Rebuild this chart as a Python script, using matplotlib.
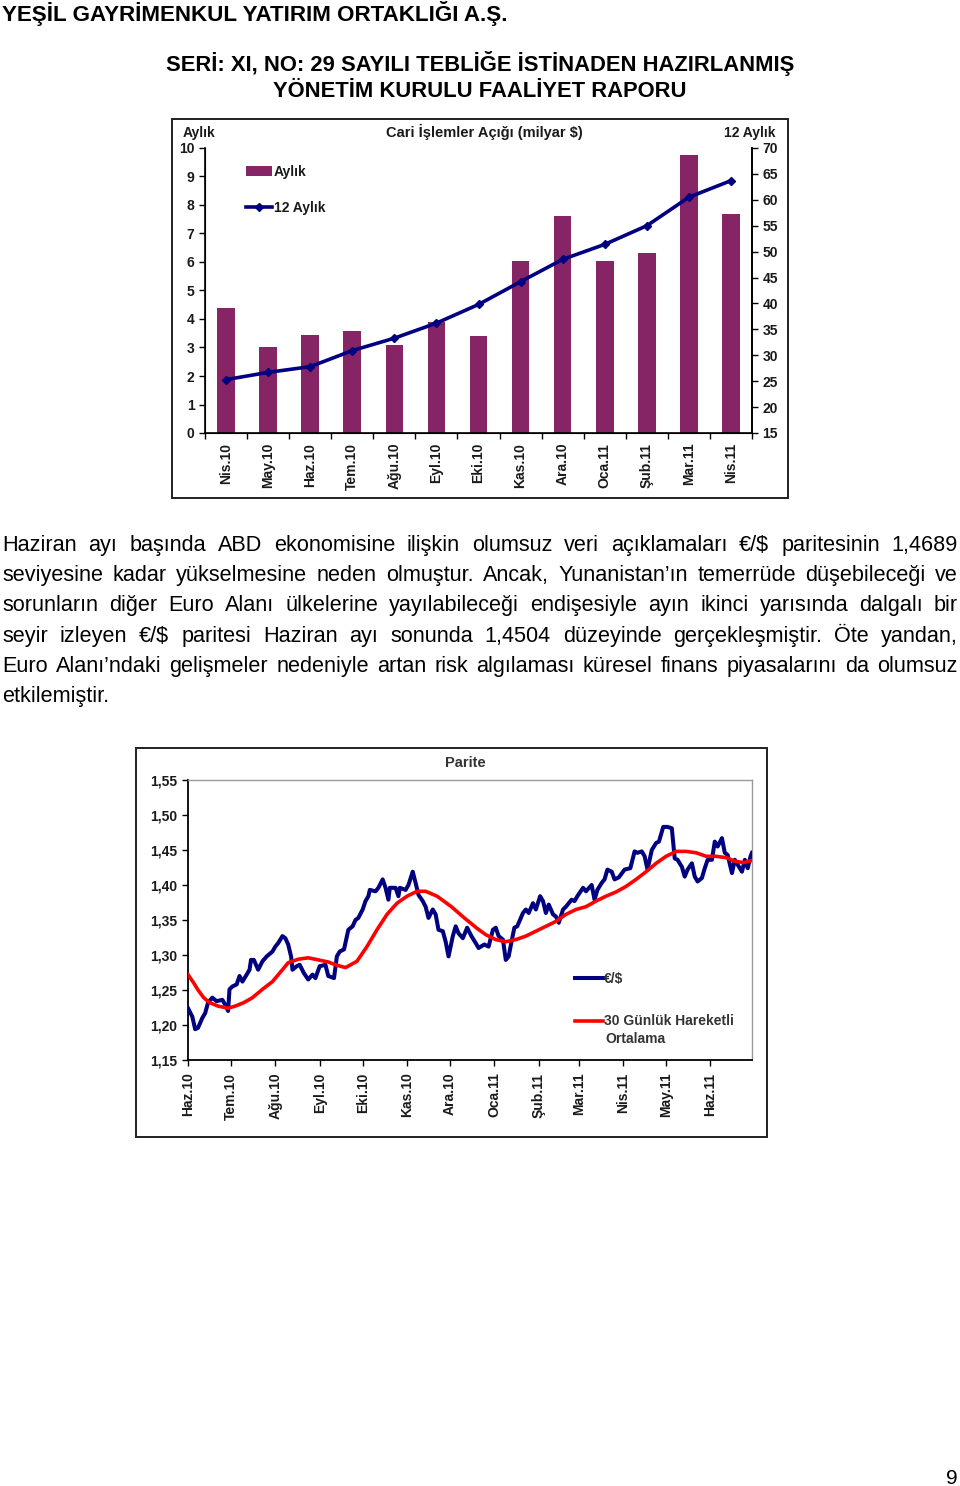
import matplotlib
matplotlib.use('Agg')
import matplotlib.pyplot as plt
from matplotlib.patches import Rectangle
from matplotlib.ticker import FuncFormatter
import numpy as np
import pandas as pd

plt.rcParams['font.family'] = ['Liberation Sans', 'DejaVu Sans']

# ---------------- data ----------------
header_company = "YEŞİL GAYRİMENKUL YATIRIM ORTAKLIĞI A.Ş."
header_line1 = "SERİ: XI, NO: 29 SAYILI TEBLİĞE İSTİNADEN HAZIRLANMIŞ"
header_line2 = "YÖNETİM KURULU FAALİYET RAPORU"

chart1_title = "Cari İşlemler Açığı (milyar $)"
months1 = ['Nis.10', 'May.10', 'Haz.10', 'Tem.10', 'Ağu.10', 'Eyl.10', 'Eki.10',
           'Kas.10', 'Ara.10', 'Oca.11', 'Şub.11', 'Mar.11', 'Nis.11']
monthly = [4.4, 3.0, 3.45, 3.58, 3.08, 3.9, 3.42, 6.05, 7.6, 6.05, 6.3, 9.75, 7.68]
annual = [25.3, 26.7, 27.8, 30.9, 33.3, 36.2, 39.8, 44.2, 48.5, 51.4, 55.0, 60.5, 63.7]

paragraph = [
    "Haziran ayı başında ABD ekonomisine ilişkin olumsuz veri açıklamaları €/$ paritesinin 1,4689",
    "seviyesine kadar yükselmesine neden olmuştur. Ancak, Yunanistan’ın temerrüde düşebileceği ve",
    "sorunların diğer Euro Alanı ülkelerine yayılabileceği endişesiyle ayın ikinci yarısında dalgalı bir",
    "seyir izleyen €/$ paritesi Haziran ayı sonunda 1,4504 düzeyinde gerçekleşmiştir. Öte yandan,",
    "Euro Alanı’ndaki gelişmeler nedeniyle artan risk algılaması küresel finans piyasalarını da olumsuz",
    "etkilemiştir.",
]

chart2_title = "Parite"
start_date = "2010-06-01"
end_date = "2011-06-30"
month_labels2 = ['Haz.10', 'Tem.10', 'Ağu.10', 'Eyl.10', 'Eki.10', 'Kas.10', 'Ara.10',
                 'Oca.11', 'Şub.11', 'Mar.11', 'Nis.11', 'May.11', 'Haz.11']
# EUR/USD (days after 1 June 2010)
eur_day = [0, 3, 5, 7, 10, 12, 14, 17, 20, 24, 26, 28, 29, 31, 34, 36, 38, 41, 43, 44,
           46, 49, 52, 55, 59, 61, 63, 66, 68, 70, 72, 73, 76, 78, 81, 84, 87, 89, 92, 96,
           98, 102, 104, 106, 109, 112, 115, 117, 119, 122, 124, 126, 127, 131, 133, 136, 138, 140, 141, 145,
           147, 148, 152, 154, 157, 159, 161, 164, 166, 168, 171, 173, 175, 178, 180, 182, 185, 187, 189, 192,
           195, 198, 201, 203, 207, 210, 213, 215, 217, 220, 222, 224, 226, 228, 230, 234, 236, 238, 241, 243,
           246, 248, 250, 252, 255, 257, 259, 262, 264, 268, 270, 272, 276, 278, 282, 284, 286, 289, 291, 293,
           296, 298, 301, 305, 309, 312, 314, 317, 319, 321, 324, 327, 329, 332, 335, 338, 340, 342, 345, 347,
           349, 352, 354, 356, 359, 361, 363, 366, 368, 370, 373, 375, 377, 380, 382, 384, 387, 389, 391, 393,
           394]
eur_usd = [1.224, 1.212, 1.194, 1.196, 1.210, 1.217, 1.232, 1.239, 1.234, 1.236, 1.229, 1.220, 1.251, 1.255, 1.258, 1.270, 1.262, 1.272, 1.279, 1.293,
           1.293, 1.279, 1.291, 1.298, 1.305, 1.312, 1.317, 1.327, 1.324, 1.315, 1.298, 1.279, 1.284, 1.286, 1.274, 1.265, 1.272, 1.267, 1.284, 1.286,
           1.270, 1.267, 1.298, 1.305, 1.308, 1.336, 1.341, 1.350, 1.353, 1.365, 1.377, 1.384, 1.393, 1.391, 1.396, 1.408, 1.396, 1.379, 1.396, 1.396,
           1.384, 1.396, 1.393, 1.400, 1.419, 1.403, 1.386, 1.377, 1.369, 1.353, 1.365, 1.358, 1.336, 1.334, 1.319, 1.298, 1.327, 1.341, 1.331, 1.324,
           1.339, 1.327, 1.317, 1.310, 1.315, 1.312, 1.336, 1.339, 1.327, 1.322, 1.293, 1.298, 1.319, 1.339, 1.341, 1.360, 1.365, 1.360, 1.374, 1.365,
           1.384, 1.377, 1.360, 1.372, 1.358, 1.355, 1.346, 1.365, 1.369, 1.379, 1.377, 1.384, 1.396, 1.391, 1.400, 1.379, 1.393, 1.403, 1.408, 1.422,
           1.419, 1.408, 1.411, 1.422, 1.424, 1.448, 1.446, 1.448, 1.441, 1.422, 1.450, 1.460, 1.462, 1.483, 1.483, 1.481, 1.438, 1.436, 1.426, 1.412,
           1.422, 1.431, 1.412, 1.405, 1.410, 1.424, 1.436, 1.436, 1.462, 1.455, 1.467, 1.446, 1.443, 1.417, 1.436, 1.429, 1.419, 1.436, 1.424, 1.441,
           1.446]
# 30-day moving average
ma_day = [0, 4, 7, 11, 15, 21, 28, 33, 39, 45, 52, 59, 66, 70, 77, 84, 91, 98, 103, 110,
          118, 125, 132, 139, 146, 153, 160, 166, 174, 184, 193, 202, 208, 215, 222, 229, 236, 243, 250, 257,
          264, 271, 278, 285, 292, 299, 306, 313, 320, 327, 334, 341, 348, 355, 362, 369, 376, 382, 388, 394]
ma_30 = [1.272, 1.260, 1.250, 1.239, 1.232, 1.227, 1.224, 1.227, 1.232, 1.239, 1.251, 1.262, 1.279, 1.289, 1.294, 1.296, 1.293, 1.290, 1.286, 1.282,
         1.291, 1.312, 1.336, 1.358, 1.374, 1.384, 1.391, 1.391, 1.384, 1.369, 1.353, 1.338, 1.329, 1.322, 1.319, 1.322, 1.327, 1.334, 1.341, 1.348,
         1.358, 1.365, 1.369, 1.377, 1.384, 1.390, 1.398, 1.408, 1.419, 1.431, 1.441, 1.448, 1.448, 1.446, 1.441, 1.441, 1.439, 1.434, 1.432, 1.435]
legend2 = ['€/$', '30 Günlük Hareketli']
legend2_extra = 'Ortalama'
page_number = "9"

# ---------------- figure helpers ----------------
W, H = 960, 1486
fig = plt.figure(figsize=(W / 100, H / 100), dpi=100)
renderer = fig.canvas.get_renderer()
TXT = '#1a1a1a'


def fx(x):
    return x / W


def fy(y):
    return 1 - y / H


def axes_px(x0, y0, x1, y1):
    return fig.add_axes([fx(x0), fy(y1), (x1 - x0) / W, (y1 - y0) / H])


def fit_text(x, y, s, width, ha='left', va='baseline', weight='bold', size0=14, **kw):
    t = fig.text(fx(x), fy(y), s, ha=ha, va=va, fontsize=size0, fontweight=weight, **kw)
    w = t.get_window_extent(renderer).width
    t.set_fontsize(size0 * width / w)
    return t


def frame(x0, y0, x1, y1):
    fig.patches.append(Rectangle((fx(x0), fy(y1)), (x1 - x0) / W, (y1 - y0) / H,
                                 transform=fig.transFigure, fill=False,
                                 edgecolor='#202020', lw=1.4))


# ---------------- header ----------------
fit_text(2, 21, header_company, 506, ha='left')
fit_text(480.5, 71, header_line1, 629, ha='center')
fit_text(479.5, 97, header_line2, 413, ha='center')

# ---------------- chart 1 ----------------
frame(172, 119, 788, 498)
fig.text(fx(183), fy(133), 'Aylık', fontsize=10, fontweight='bold', color=TXT, va='center', ha='left')
fig.text(fx(484), fy(132), chart1_title, fontsize=10.5, fontweight='bold', color=TXT, va='center', ha='center')
fig.text(fx(775), fy(133), '12 Aylık', fontsize=10, fontweight='bold', color=TXT, va='center', ha='right')

ax1 = axes_px(205, 148, 752, 433)
xc = np.arange(len(months1))
bars = ax1.bar(xc, monthly, width=0.42, color='#862565', zorder=2, label='Aylık')
ax1.set_xlim(-0.5, len(months1) - 0.5)
ax1.set_ylim(0, 10)
ax1.set_yticks(range(0, 11))
ax1.set_xticks(xc)
ax1.set_xticklabels(months1, rotation=90, fontsize=10, fontweight='bold', color=TXT)
ax1.set_xticks(np.arange(-0.5, len(months1)), minor=True)
ax1.tick_params(axis='x', which='major', length=0, pad=7)
ax1.tick_params(axis='x', which='minor', length=4, direction='out', width=1)
ax1.tick_params(axis='y', length=4, direction='out', labelsize=10, labelcolor=TXT, width=1)
for lbl in ax1.get_yticklabels():
    lbl.set_fontweight('bold')
ax1.spines['top'].set_visible(False)
for s in ['left', 'bottom', 'right']:
    ax1.spines[s].set_linewidth(1.2)
ax1.patch.set_alpha(0)

ax1b = ax1.twinx()
line1, = ax1b.plot(xc, annual, color='#000080', lw=2.6, marker='D', ms=4.5, zorder=3, label='12 Aylık')
ax1b.set_ylim(15, 70)
ax1b.set_yticks(range(15, 71, 5))
ax1b.tick_params(axis='y', length=4, direction='out', labelsize=10, labelcolor=TXT, width=1)
for lbl in ax1b.get_yticklabels():
    lbl.set_fontweight('bold')
ax1b.spines['top'].set_visible(False)
ax1b.spines['right'].set_linewidth(1.2)

leg1 = ax1b.legend(handles=[bars, line1], labels=['Aylık', '12 Aylık'], loc='upper left',
                   bbox_to_anchor=(fx(246), fy(165)), bbox_transform=fig.transFigure,
                   frameon=False, borderpad=0, borderaxespad=0, handlelength=1.9,
                   handletextpad=0.1, labelspacing=1.55, numpoints=1,
                   prop={'weight': 'bold', 'size': 10})
for t in leg1.get_texts():
    t.set_color(TXT)

# ---------------- paragraph ----------------
x_left, x_right = 2, 958
baselines = [551, 581, 611, 641.5, 671.5, 701.5]


def words_width(line, size):
    ws = []
    for w in line.split(' '):
        t = fig.text(0, 0, w, fontsize=size)
        ws.append(t.get_window_extent(renderer).width)
        t.remove()
    return ws


psize = 15.6
while True:
    ok = True
    for line in paragraph[:-1]:
        ws = words_width(line, psize)
        gap = (x_right - x_left - sum(ws)) / (len(ws) - 1)
        if gap < 2.5:
            ok = False
            break
    if ok:
        break
    psize -= 0.1

for i, line in enumerate(paragraph):
    words = line.split(' ')
    ws = words_width(line, psize)
    if i < len(paragraph) - 1:
        gap = (x_right - x_left - sum(ws)) / (len(ws) - 1)
    else:
        gap = 5
    x = x_left
    for w, wd in zip(words, ws):
        fig.text(fx(x), fy(baselines[i]), w, fontsize=psize, va='baseline', ha='left', color='black')
        x += wd + gap

# ---------------- chart 2 ----------------
frame(136, 748, 767, 1137)
fig.text(fx(465.5), fy(763), chart2_title, fontsize=10.5, fontweight='bold', color='#333333',
         va='center', ha='center')

base = np.datetime64(start_date)
eur_dates = base + np.array(eur_day).astype('timedelta64[D]')
ma_dates = base + np.array(ma_day).astype('timedelta64[D]')

ax2 = axes_px(188, 780, 752, 1060)
l_eur, = ax2.plot(eur_dates, eur_usd, color='#000080', lw=2.9, solid_joinstyle='round', zorder=3)
l_ma, = ax2.plot(ma_dates, ma_30, color='#ff0000', lw=2.6, solid_joinstyle='round', zorder=4)
ax2.set_xlim(np.datetime64(start_date), np.datetime64(end_date))
ax2.set_ylim(1.15, 1.55)
ax2.set_yticks(np.arange(1.15, 1.551, 0.05))
ax2.yaxis.set_major_formatter(FuncFormatter(lambda v, p: f'{v:.2f}'.replace('.', ',')))
month_ticks = pd.date_range(start_date, periods=len(month_labels2), freq='MS')
ax2.set_xticks(month_ticks)
ax2.set_xticklabels(month_labels2, rotation=90, fontsize=10, fontweight='bold', color=TXT)
ax2.tick_params(axis='x', length=4, direction='out', width=1, pad=5)
ax2.tick_params(axis='y', length=4, direction='out', width=1, labelsize=10, labelcolor=TXT)
for lbl in ax2.get_yticklabels():
    lbl.set_fontweight('bold')
for s in ['left', 'bottom']:
    ax2.spines[s].set_linewidth(1.3)
for s in ['top', 'right']:
    ax2.spines[s].set_color('#999999')
    ax2.spines[s].set_linewidth(1.0)

leg2 = ax2.legend(handles=[l_eur, l_ma], labels=legend2, loc='upper left',
                  bbox_to_anchor=(fx(575), fy(972)), bbox_transform=fig.transFigure,
                  frameon=False, borderpad=0, borderaxespad=0, handlelength=2.0,
                  handletextpad=0.1, labelspacing=2.05,
                  prop={'weight': 'bold', 'size': 10})
for t in leg2.get_texts():
    t.set_color('#333333')
fig.text(fx(605), fy(1039), legend2_extra, fontsize=10, fontweight='bold', color='#333333',
         va='center', ha='left')

# ---------------- page number ----------------
fig.text(fx(958), fy(1484), page_number, fontsize=15, ha='right', va='baseline', color='black')

fig.savefig('out.png', dpi=100)
